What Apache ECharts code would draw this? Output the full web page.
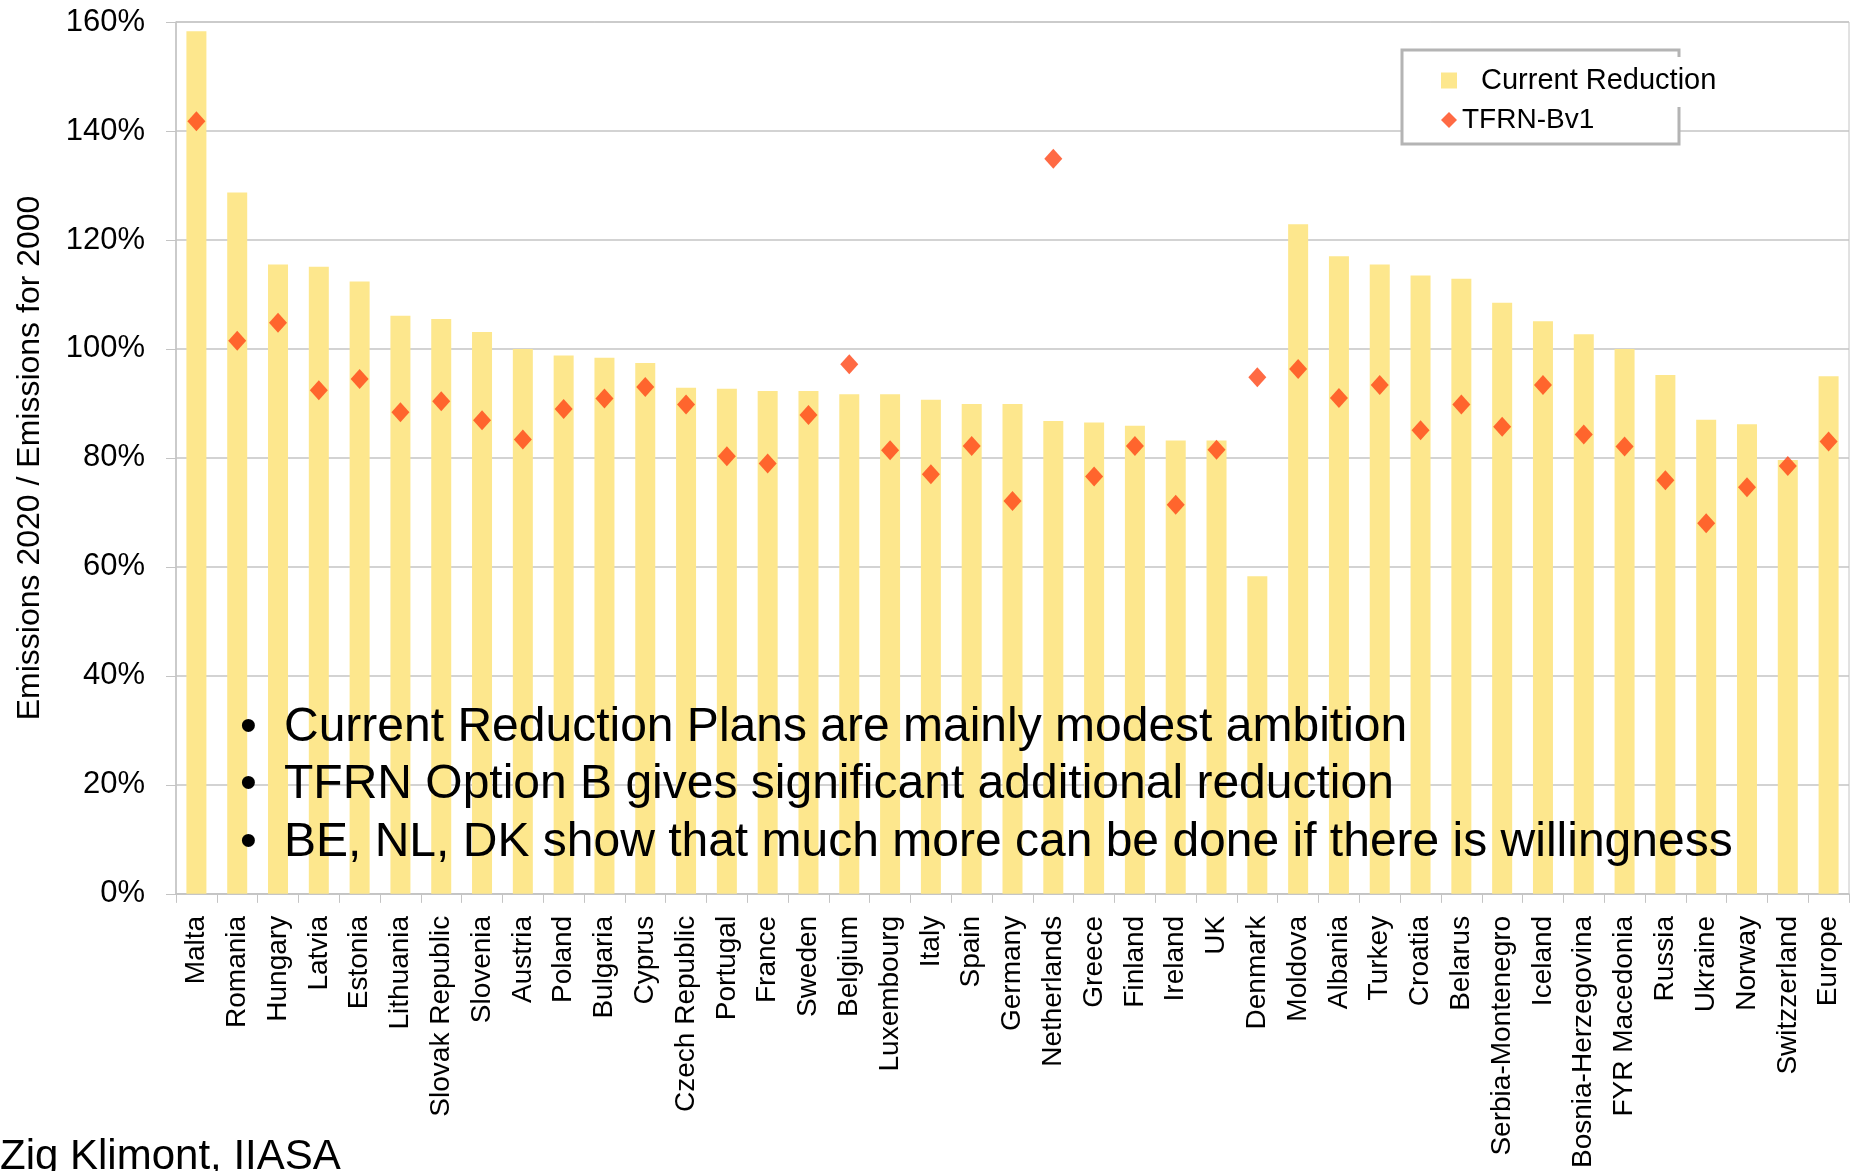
<!DOCTYPE html>
<html>
<head>
<meta charset="utf-8">
<title>Emissions 2020 / Emissions for 2000</title>
<script src="https://cdn.jsdelivr.net/npm/echarts/dist/echarts.min.js"></script>
<style>
  html, body { margin: 0; padding: 0; background: #fff; }
  #chart { width: 1858px; height: 1171px; }
</style>
</head>
<body>
<div id="chart"></div>
<script>
const countries = ['Malta', 'Romania', 'Hungary', 'Latvia', 'Estonia', 'Lithuania', 'Slovak Republic',
  'Slovenia', 'Austria', 'Poland', 'Bulgaria', 'Cyprus', 'Czech Republic', 'Portugal', 'France',
  'Sweden', 'Belgium', 'Luxembourg', 'Italy', 'Spain', 'Germany', 'Netherlands', 'Greece', 'Finland',
  'Ireland', 'UK', 'Denmark', 'Moldova', 'Albania', 'Turkey', 'Croatia', 'Belarus', 'Serbia-Montenegro',
  'Iceland', 'Bosnia-Herzegovina', 'FYR Macedonia', 'Russia', 'Ukraine', 'Norway', 'Switzzerland', 'Europe']

// emissions 2020 as % of 2000
const currentReduction = [158.3, 128.7, 115.5, 115.1, 112.4, 106.1, 105.5, 103.1, 100.0, 98.8,
  98.4, 97.4, 92.9, 92.7, 92.3, 92.3, 91.7, 91.7, 90.7, 89.9,
  89.9, 86.8, 86.5, 85.9, 83.2, 83.2, 58.3, 122.9, 117.0, 115.5,
  113.5, 112.9, 108.5, 105.1, 102.7, 100.0, 95.2, 87.0, 86.2, 79.6, 95.0]

const tfrnBv1 = [141.8, 101.5, 104.8, 92.4, 94.5, 88.4, 90.4, 86.9, 83.4, 89.0,
  90.9, 93.0, 89.8, 80.3, 79.0, 87.9, 97.2, 81.4, 77.0, 82.2,
  72.1, 134.9, 76.6, 82.2, 71.4, 81.5, 94.8, 96.3, 91.0, 93.4,
  85.1, 89.8, 85.7, 93.4, 84.3, 82.1, 75.9, 68.0, 74.6, 78.5, 83.0]

const bullets = [
  'Current Reduction Plans are mainly modest ambition',
  'TFRN Option B gives significant additional reduction',
  'BE, NL, DK show that much more can be done if there is willingness'
]

const FONT = '"Liberation Sans", Arial, sans-serif'
const GRID_COLOR = '#c4c4c4'

const graphics = [
  // legend frame
  {
    type: 'rect', z: 50,
    shape: { x: 1402, y: 50, width: 277, height: 94 },
    style: { fill: '#fff', stroke: '#b4b4b4', lineWidth: 3 }
  },
  {
    type: 'rect', z: 51,
    shape: { x: 1676, y: 57, width: 7, height: 50 },
    style: { fill: '#fff' }
  },
  {
    type: 'text', z: 60, left: 0, top: 1136,
    style: { text: 'Zig Klimont, IIASA', fontSize: 42, fontFamily: FONT, fill: '#000' }
  }
]

const lineY = [728, 785, 843]
bullets.forEach((t, i) => {
  graphics.push({
    type: 'text', z: 60, x: 240, y: lineY[i],
    style: { text: '\u2022', fontSize: 48, fontFamily: FONT, fill: '#000', verticalAlign: 'middle' }
  })
  graphics.push({
    type: 'text', z: 60, x: 284, y: lineY[i],
    style: { text: t, fontSize: 48, fontFamily: FONT, fill: '#000', verticalAlign: 'middle' }
  })
})

const option = {
  animation: false,
  textStyle: { fontFamily: FONT },
  grid: {
    left: 176, right: 9, top: 22, bottom: 274,
    show: true, borderColor: GRID_COLOR, borderWidth: 1
  },
  legend: {
    orient: 'vertical',
    left: 1436, top: 61,
    z: 100,
    itemWidth: 16, itemHeight: 16,
    itemGap: 11,
    textStyle: { fontSize: 28, color: '#000', fontFamily: FONT },
    data: [
      { name: 'Current Reduction', icon: 'rect', textStyle: { padding: [0, 0, 0, 19], fontSize: 29 } },
      { name: 'TFRN-Bv1', icon: 'diamond' }
    ]
  },
  xAxis: {
    type: 'category',
    data: countries,
    boundaryGap: true,
    axisLine: { lineStyle: { color: GRID_COLOR, width: 1.5 } },
    axisTick: { show: true, alignWithLabel: false, length: 9, lineStyle: { color: GRID_COLOR } },
    axisLabel: { rotate: 90, interval: 0, fontSize: 28, color: '#000', margin: 22, fontFamily: FONT }
  },
  yAxis: {
    type: 'value',
    min: 0, max: 160, interval: 20,
    name: 'Emissions 2020 / Emissions for 2000',
    nameLocation: 'middle',
    nameRotate: 90,
    nameGap: 130,
    nameTextStyle: { fontSize: 32, color: '#000', fontFamily: FONT },
    axisLine: { show: true, lineStyle: { color: GRID_COLOR, width: 1.5 } },
    axisTick: { show: true, length: 10, lineStyle: { color: GRID_COLOR } },
    axisLabel: { formatter: '{value}%', fontSize: 31, color: '#000', margin: 31, fontFamily: FONT },
    splitLine: { lineStyle: { color: GRID_COLOR, width: 1.5 } }
  },
  series: [
    {
      name: 'Current Reduction',
      type: 'bar',
      data: currentReduction,
      barWidth: 20,
      itemStyle: { color: '#FDE78D' }
    },
    {
      name: 'TFRN-Bv1',
      type: 'scatter',
      data: tfrnBv1,
      symbol: 'diamond',
      symbolSize: [18, 20],
      z: 5,
      itemStyle: { color: '#FF4515' }
    }
  ],
  graphic: graphics
}

const chart = echarts.init(document.getElementById('chart'))
chart.setOption(option)
</script>
</body>
</html>
